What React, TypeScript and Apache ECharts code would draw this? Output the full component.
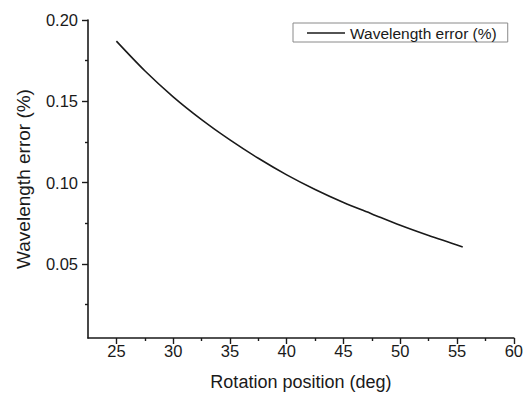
import React, { useEffect, useRef } from "react";
import * as echarts from "echarts";

const rotation = [25, 27.5, 30, 32.5, 35, 37.5, 40, 42.5, 45, 47.5, 50, 52.5, 55.5];
const wavelengthError = [0.187, 0.1688, 0.1528, 0.1388, 0.1263, 0.115, 0.1048, 0.0958, 0.0878, 0.0808, 0.0738, 0.0675, 0.0605];
const xMajorTicks = [25, 30, 35, 40, 45, 50, 55, 60];
const xMinorTicks = [27.5, 32.5, 37.5, 42.5, 47.5, 52.5, 57.5];
const yMajorTicks = [0.05, 0.1, 0.15, 0.2];
const yMinorTicks = [0.025, 0.075, 0.125, 0.175];

const seriesName = "Wavelength error (%)";
const xTitle = "Rotation position (deg)";
const yTitle = "Wavelength error (%)";

const FONT = "'Liberation Sans', Arial, sans-serif";
const INK = "#1a1a1a";

export default function App() {
  const ref = useRef<HTMLDivElement>(null);
  useEffect(() => {
    document.body.style.margin = "0";
    if (!ref.current) return;
    const chart = echarts.init(ref.current, undefined, { renderer: "svg" });
    const xMin = 22.5, xMax = 60, yMin = 0.0045, yMax = 0.2;
    chart.setOption({
      animation: false,
      backgroundColor: "#ffffff",
      textStyle: { fontFamily: FONT },
      grid: { left: 88, right: 8, top: 20, bottom: 56, containLabel: false },
      legend: {
        left: 293,
        top: 23,
        orient: "horizontal",
        padding: [2, 11, 1, 14],
        borderColor: "#8a8a8a",
        borderWidth: 1,
        itemWidth: 38,
        itemHeight: 10,
        textStyle: { fontSize: 15.5, color: INK, fontFamily: FONT },
        data: [{ name: seriesName, icon: "path://M0,4.3L38,4.3L38,5.7L0,5.7Z" }],
      },
      xAxis: [
        {
          type: "value",
          min: xMin,
          max: xMax,
          position: "bottom",
          name: xTitle,
          nameLocation: "middle",
          nameGap: 35,
          nameTextStyle: { fontSize: 18, color: INK, fontFamily: FONT },
          axisLine: { show: true, lineStyle: { color: INK, width: 1.6 } },
          axisTick: { show: true, length: 6, customValues: xMajorTicks, lineStyle: { color: INK, width: 1.4 } },
          axisLabel: { show: true, customValues: xMajorTicks, margin: 4, fontSize: 16.5, color: INK, fontFamily: FONT },
          splitLine: { show: false },
        },
        {
          type: "value",
          min: xMin,
          max: xMax,
          position: "bottom",
          axisLine: { show: false },
          axisTick: { show: true, length: 3, customValues: xMinorTicks, lineStyle: { color: INK, width: 1.4 } },
          axisLabel: { show: false },
          splitLine: { show: false },
        },
      ],
      yAxis: [
        {
          type: "value",
          min: yMin,
          max: yMax,
          position: "left",
          name: yTitle,
          nameLocation: "middle",
          nameGap: 55,
          nameTextStyle: { fontSize: 19, color: INK, fontFamily: FONT },
          axisLine: { show: true, lineStyle: { color: INK, width: 1.6 } },
          axisTick: { show: true, length: 6, customValues: yMajorTicks, lineStyle: { color: INK, width: 1.4 } },
          axisLabel: {
            show: true,
            customValues: yMajorTicks,
            margin: 10,
            fontSize: 16.5,
            color: INK,
            fontFamily: FONT,
            formatter: (v: number) => v.toFixed(2),
          },
          splitLine: { show: false },
        },
        {
          type: "value",
          min: yMin,
          max: yMax,
          position: "left",
          axisLine: { show: false },
          axisTick: { show: true, length: 3, customValues: yMinorTicks, lineStyle: { color: INK, width: 1.4 } },
          axisLabel: { show: false },
          splitLine: { show: false },
        },
      ],
      series: [
        {
          name: seriesName,
          type: "line",
          xAxisIndex: 0,
          yAxisIndex: 0,
          smooth: 0.3,
          symbol: "none",
          showSymbol: false,
          lineStyle: { color: INK, width: 1.6 },
          itemStyle: { color: INK },
          data: rotation.map((x, i) => [x, wavelengthError[i]]),
        },
      ],
    });
    return () => chart.dispose();
  }, []);
  return <div ref={ref} style={{ width: 526, height: 396 }} />;
}
